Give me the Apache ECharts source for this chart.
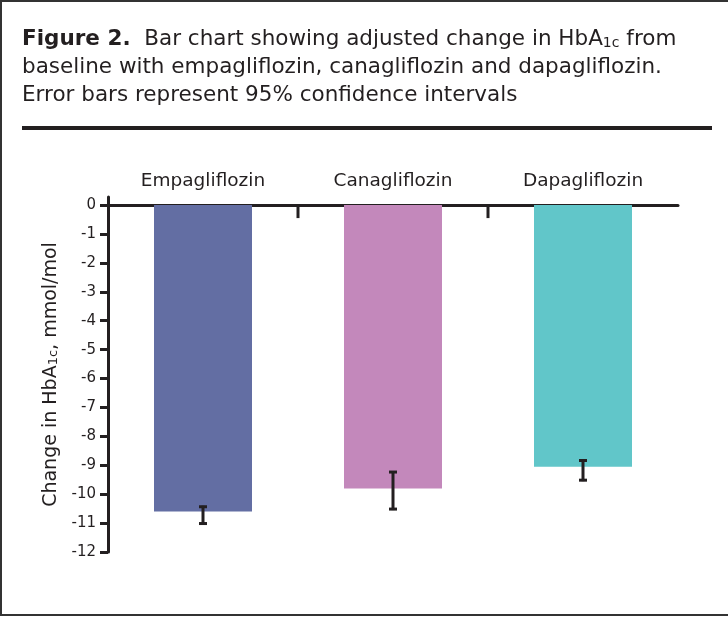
<!DOCTYPE html>
<html><head><meta charset="utf-8">
<script src="https://cdn.jsdelivr.net/npm/echarts@6/dist/echarts.min.js"></script>
<style>html,body{margin:0;padding:0;background:#fff}#c{width:728px;height:617px}</style>
</head><body><div id="c"></div>
<script>
const categories = ['Empagliflozin', 'Canagliflozin', 'Dapagliflozin'];
const changeValues = [-10.6, -9.8, -9.05];
const ciLower = [-11.05, -10.55, -9.55];
const ciUpper = [-10.4, -9.2, -8.8];
const barColors = ['#636ea3', '#c388bb', '#61c6c9'];
const yTicks = [0, -1, -2, -3, -4, -5, -6, -7, -8, -9, -10, -11, -12];

const FONT = 'DejaVu Sans';
const INK = '#231f20';

const chart = echarts.init(document.getElementById('c'));
chart.setOption({
  backgroundColor: '#fff',
  animation: false,
  title: {
    left: 22, top: 25, padding: 0,
    text: '{b|Figure 2.}  Bar chart showing adjusted change in HbA{s|1c} from\nbaseline with empagliflozin, canagliflozin and dapagliflozin.\nError bars represent 95% confidence intervals',
    textStyle: {
      fontFamily: FONT, fontSize: 21.5, fontWeight: 'normal', color: INK, lineHeight: 28,
      rich: {
        b: { fontFamily: FONT, fontSize: 21.5, fontWeight: 'bold', color: INK, lineHeight: 28 },
        s: { fontFamily: FONT, fontSize: 14, color: INK, lineHeight: 16, verticalAlign: 'middle', padding: [8, 0, 0, 0] }
      }
    }
  },
  graphic: [
    { type: 'line', shape: { x1: 22, y1: 128, x2: 712, y2: 128 }, style: { stroke: INK, lineWidth: 4 } },
    { type: 'polyline', shape: { points: [[728, 1], [1, 1], [1, 615], [728, 615]] }, style: { stroke: '#333', lineWidth: 2, fill: null } }
  ],
  grid: { left: 108, right: 50, top: 197, bottom: 65 },
  xAxis: {
    type: 'category', position: 'top', data: categories,
    axisLine: { onZero: true, lineStyle: { color: INK, width: 3 } },
    axisTick: { show: false },
    axisLabel: { color: INK, fontSize: 18.5, fontFamily: FONT, margin: 6 },
    splitLine: { show: false }
  },
  yAxis: {
    type: 'value', min: -12, max: 0.28,
    axisLine: { show: true, lineStyle: { color: INK, width: 3 } },
    axisTick: { show: true, length: 8, lineStyle: { color: INK, width: 3 }, customValues: yTicks },
    axisLabel: { customValues: yTicks, color: INK, fontSize: 15, fontFamily: FONT, margin: 12, formatter: v => String(v) },
    splitLine: { show: false },
    name: 'Change in HbA{s|1c}, mmol/mol',
    nameLocation: 'middle', nameGap: 47,
    nameTextStyle: {
      color: INK, fontSize: 19, fontFamily: FONT,
      rich: { s: { color: INK, fontSize: 13, fontFamily: FONT, lineHeight: 20, verticalAlign: 'bottom' } }
    }
  },
  series: [
    {
      type: 'bar', barWidth: 98,
      data: changeValues.map((v, i) => ({ value: v, itemStyle: { color: barColors[i] } }))
    },
    {
      type: 'custom', z: 5,
      encode: { x: 0, y: [1, 2] },
      data: categories.map((c, i) => [i, ciLower[i], ciUpper[i]]),
      renderItem: function (params, api) {
        const x = api.value(0);
        const lo = api.coord([x, api.value(1)]);
        const hi = api.coord([x, api.value(2)]);
        const s = { stroke: INK, lineWidth: 3 };
        return { type: 'group', children: [
          { type: 'line', shape: { x1: hi[0], y1: hi[1], x2: lo[0], y2: lo[1] }, style: s },
          { type: 'line', shape: { x1: hi[0] - 4, y1: hi[1] + 1, x2: hi[0] + 4, y2: hi[1] + 1 }, style: s },
          { type: 'line', shape: { x1: lo[0] - 4, y1: lo[1] - 1, x2: lo[0] + 4, y2: lo[1] - 1 }, style: s }
        ] };
      }
    },
    {
      type: 'custom', z: 5,
      encode: { x: 0, y: 1 },
      data: categories.slice(1).map((c, i) => [i + 1, 0]),
      renderItem: function (params, api) {
        const p = api.coord([api.value(0), api.value(1)]);
        const bw = api.size([1, 0])[0];
        const x = p[0] - bw / 2;
        return { type: 'line', shape: { x1: x, y1: p[1], x2: x, y2: p[1] + 13 }, style: { stroke: INK, lineWidth: 3 } };
      }
    }
  ]
});
</script></body></html>
